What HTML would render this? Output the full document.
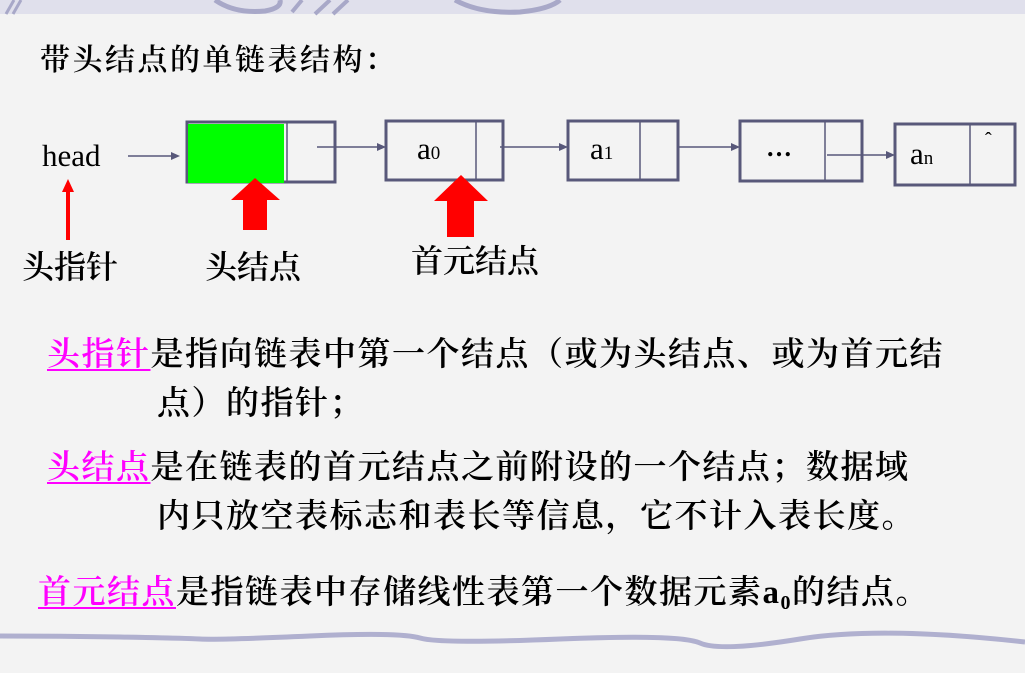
<!DOCTYPE html>
<html><head><meta charset="utf-8"><style>
html,body{margin:0;padding:0}
body{width:1025px;height:673px;position:relative;overflow:hidden;background:#f3f3f3;font-family:"Liberation Serif","Noto Serif CJK SC",serif;color:#000}
.t{position:absolute;white-space:nowrap;line-height:1}
.p{font-size:33px;letter-spacing:1.5px;font-weight:600}
.u{color:#f0f;text-decoration:underline;text-decoration-thickness:2px;text-underline-offset:4px}
</style></head><body>
<svg width="1025" height="673" style="position:absolute;left:0;top:0">
<rect x="0" y="0" width="1025" height="14" fill="#e0e0ec"/>
<path d="M6 14 L14 0 M13 14 L21 0" stroke="#a8a8c8" stroke-width="3"/>
<path d="M215 0 Q235 14 265 11 Q282 8 280 0" stroke="#a8a8c8" stroke-width="5" fill="none"/>
<path d="M292 12 L302 0 M315 14 L330 0 M333 14 L348 0" stroke="#a8a8c8" stroke-width="4"/>
<path d="M455 0 Q480 14 520 12 Q550 9 560 0" stroke="#a8a8c8" stroke-width="5" fill="none"/>
<path d="M0 636 Q60 636 120 637 T200 639 T310 636 T420 638 T560 639 T700 643 T800 639 T1025 642" stroke="#b0b0cf" stroke-width="5" fill="none"/>
<g stroke="#58587a" stroke-width="3" fill="none">
<rect x="187" y="122" width="148" height="60"/>
<rect x="386" y="121" width="117" height="59"/>
<rect x="568" y="121" width="110" height="59"/>
<rect x="740" y="121" width="122" height="60"/>
<rect x="895" y="124" width="120" height="61"/>
</g>
<rect x="188" y="124" width="96" height="59" fill="#00ff00"/>
<g stroke="#58587a" stroke-width="1.5">
<line x1="287" y1="122" x2="287" y2="182"/>
<line x1="476" y1="121" x2="476" y2="180"/>
<line x1="640" y1="121" x2="640" y2="180"/>
<line x1="825" y1="121" x2="825" y2="181"/>
<line x1="970" y1="124" x2="970" y2="185"/>
<line x1="128" y1="156" x2="172" y2="156"/>
<line x1="317" y1="147" x2="378" y2="147"/>
<line x1="500" y1="147" x2="560" y2="147"/>
<line x1="678" y1="147" x2="732" y2="147"/>
<line x1="827" y1="155" x2="887" y2="155"/>
</g>
<g fill="#58587a">
<path d="M180 156 L171 152 L171 160Z"/>
<path d="M386 147 L377 143 L377 151Z"/>
<path d="M568 147 L559 143 L559 151Z"/>
<path d="M740 147 L731 143 L731 151Z"/>
<path d="M895 155 L886 151 L886 159Z"/>
</g>
<g fill="#ff0000">
<path d="M68 179 L62 192 L66 192 L66 240 L70 240 L70 192 L74 192Z"/>
<path d="M255 178 L231 200 L243 200 L243 230 L267 230 L267 200 L280 200Z"/>
<path d="M461 175 L434 201 L447 201 L447 237 L474 237 L474 201 L488 201Z"/>
</g>
</svg>
<div class="t" style="left:40px;top:46px;font-size:30px;letter-spacing:2.5px;font-weight:600">带头结点的单链表结构：</div>
<div class="t" style="left:42px;top:140px;font-size:31px">head</div>
<div class="t" style="left:417px;top:133px;font-size:31px">a<span style="font-size:19px">0</span></div>
<div class="t" style="left:590px;top:133px;font-size:31px">a<span style="font-size:19px">1</span></div>
<div class="t" style="left:766px;top:135px;font-size:26px;font-weight:bold">…</div>
<div class="t" style="left:910px;top:138px;font-size:31px">a<span style="font-size:19px">n</span></div>
<div class="t" style="left:985px;top:130px;font-size:20px">ˆ</div>
<div class="t" style="left:22px;top:251px;font-size:32px;font-weight:600">头指针</div>
<div class="t" style="left:205px;top:251px;font-size:32px;font-weight:600">头结点</div>
<div class="t" style="left:411px;top:245px;font-size:32px;font-weight:600">首元结点</div>
<div class="t p" style="left:47px;top:339px"><span class="u">头指针</span>是指向链表中第一个结点（或为头结点、或为首元结</div>
<div class="t p" style="left:157px;top:388px">点）的指针；</div>
<div class="t p" style="left:47px;top:452px"><span class="u">头结点</span>是在链表的首元结点之前附设的一个结点；数据域</div>
<div class="t p" style="left:157px;top:501px">内只放空表标志和表长等信息，它不计入表长度。</div>
<div class="t p" style="left:38px;top:577px"><span class="u">首元结点</span>是指链表中存储线性表第一个数据元素a<span style="font-size:20px;vertical-align:-6px">0</span>的结点。</div>
</body></html>
